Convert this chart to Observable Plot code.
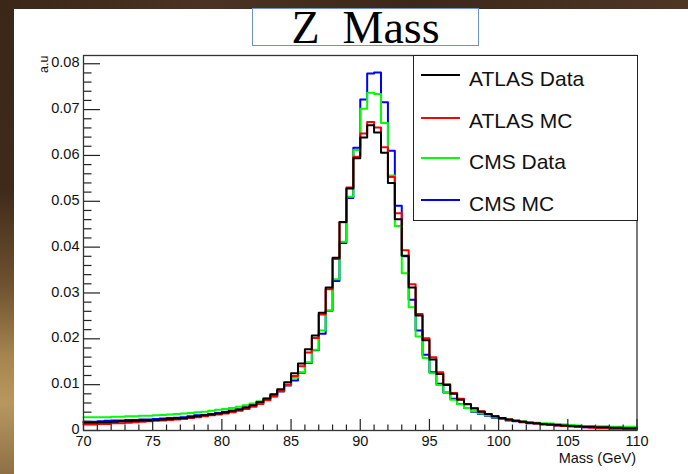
<!DOCTYPE html>
<html>
<head>
<meta charset="utf-8">
<script src="https://cdn.jsdelivr.net/npm/d3@7"></script>
<script src="https://cdn.jsdelivr.net/npm/@observablehq/plot@0.6"></script>
<style>
  body { margin: 0; }
  #page { position: relative; width: 688px; height: 474px; overflow: hidden;
    background: linear-gradient(to bottom, #3a2718 0%, #3f2a1a 40%, #6e5130 60%, #a5844f 75%, #b8975f 85%, #8f7046 100%); }
  #topband { position: absolute; left: 0; top: 0; width: 688px; height: 10px;
    background: linear-gradient(to right, #3a2718, #4a3322 30%, #3c2819 60%, #4d3624 100%); }
  #panel { position: absolute; left: 14px; top: 9px; width: 674px; height: 465px; background: #fff; }
  #chart { position: absolute; left: 0; top: 0; }
  #titlebox { position: absolute; left: 252px; top: 8px; width: 225px; height: 36px;
    border: 1px solid #6d92cb; background: #fff; }
  #title { position: absolute; left: 252px; top: 4.8px; width: 227px; text-align: center;
    font-family: "Liberation Serif", "DejaVu Serif", serif; font-size: 46px; line-height: 1;
    white-space: pre; color: #000; }
  #ylab { position: absolute; left: 38px; top: 73px; transform-origin: 0 0; transform: rotate(-90deg);
    font-family: "Liberation Sans", Arial, sans-serif; font-size: 12.5px; line-height: 1; white-space: nowrap; color: #111; }
  #xlab { position: absolute; left: 0; top: 450.5px; width: 636px; text-align: right;
    font-family: "Liberation Sans", Arial, sans-serif; font-size: 14.5px; line-height: 1; color: #111; }
  #legend { position: absolute; left: 413px; top: 55px; width: 223px; height: 164px;
    border: 1px solid #222; background: #fff; }
  .lg-line { position: absolute; left: 7px; width: 39px; height: 2px; }
  .lg-text { position: absolute; left: 55px; font-family: "Liberation Sans", Arial, sans-serif;
    font-size: 21px; line-height: 1; white-space: nowrap; color: #111; }
</style>
</head>
<body>
<div id="page">
  <div id="topband"></div>
  <div id="panel"></div>
  <div id="chart"></div>
  <div id="titlebox"></div>
  <div id="title">Z  Mass</div>
  <div id="ylab">a.u</div>
  <div id="xlab">Mass (GeV)</div>
  <div id="legend"></div>
</div>
<script>
// ---- data ----
const seriesNames = ["ATLAS Data", "ATLAS MC", "CMS Data", "CMS MC"];
const seriesColors = ["#000000", "#ff0000", "#00ff00", "#0000ff"];
// histogram bins: 80 bins of 0.5 GeV from 70 to 110 GeV
const binEdges = d3.range(70, 110.001, 0.5);
const xMajorTicks = [70, 75, 80, 85, 90, 95, 100, 105, 110];
const xMinorTicks = d3.range(71, 110, 1).filter(v => v % 5 !== 0);
const yMajorTicks = [0, 0.01, 0.02, 0.03, 0.04, 0.05, 0.06, 0.07, 0.08];
const yMinorTicks = d3.range(0.002, 0.0801, 0.002).filter(v => Math.abs(v * 100 - Math.round(v * 100)) > 1e-6);

const atlasData = [
  0.0017,0.0017,0.0018,0.0018,0.0019,0.0020,0.0020,0.0021,0.0022,0.0022,
  0.0023,0.0024,0.0025,0.0026,0.0027,0.0029,0.0031,0.0033,0.0035,0.0037,
  0.0039,0.0043,0.0046,0.0050,0.0055,0.0062,0.0070,0.0079,0.0090,0.0105,
  0.0125,0.0146,0.0177,0.0207,0.0257,0.0312,0.0377,0.0455,0.0528,0.0594,
  0.0639,0.0666,0.0650,0.0606,0.0540,0.0461,0.0381,0.0312,0.0251,0.0197,
  0.0155,0.0123,0.0099,0.0080,0.0067,0.0057,0.0048,0.0041,0.0036,0.0031,
  0.0027,0.0024,0.0021,0.0019,0.0017,0.0016,0.0014,0.0013,0.0012,0.0011,
  0.0010,0.0009,0.0008,0.0008,0.0007,0.0007,0.0006,0.0006,0.0005,0.0005];
const atlasMC = [
  0.0013,0.0013,0.0014,0.0014,0.0016,0.0016,0.0017,0.0018,0.0019,0.0020,
  0.0021,0.0022,0.0023,0.0024,0.0025,0.0027,0.0029,0.0031,0.0033,0.0035,
  0.0037,0.0040,0.0043,0.0047,0.0052,0.0058,0.0066,0.0075,0.0086,0.0100,
  0.0119,0.0140,0.0170,0.0202,0.0253,0.0308,0.0374,0.0454,0.0530,0.0597,
  0.0648,0.0673,0.0661,0.0618,0.0553,0.0474,0.0393,0.0319,0.0254,0.0201,
  0.0160,0.0127,0.0101,0.0082,0.0069,0.0058,0.0049,0.0042,0.0036,0.0031,
  0.0027,0.0024,0.0021,0.0019,0.0017,0.0015,0.0014,0.0012,0.0011,0.0010,
  0.0009,0.0008,0.0007,0.0006,0.0005,0.0005,0.0004,0.0004,0.0003,0.0003];
const cmsData = [
  0.0029,0.0029,0.0029,0.0029,0.0030,0.0030,0.0031,0.0031,0.0032,0.0032,
  0.0033,0.0034,0.0035,0.0036,0.0037,0.0038,0.0040,0.0041,0.0043,0.0045,
  0.0047,0.0049,0.0052,0.0055,0.0059,0.0064,0.0070,0.0078,0.0088,0.0100,
  0.0115,0.0127,0.0149,0.0176,0.0218,0.0262,0.0330,0.0412,0.0510,0.0612,
  0.0702,0.0737,0.0734,0.0671,0.0556,0.0446,0.0343,0.0269,0.0205,0.0158,
  0.0125,0.0099,0.0084,0.0067,0.0057,0.0049,0.0042,0.0037,0.0033,0.0029,
  0.0026,0.0024,0.0022,0.0020,0.0018,0.0017,0.0016,0.0015,0.0014,0.0013,
  0.0012,0.0011,0.0010,0.0010,0.0009,0.0009,0.0008,0.0008,0.0008,0.0008];
const cmsMC = [
  0.0019,0.0019,0.0020,0.0021,0.0022,0.0022,0.0023,0.0023,0.0024,0.0024,
  0.0025,0.0026,0.0027,0.0028,0.0029,0.0031,0.0033,0.0034,0.0036,0.0038,
  0.0041,0.0043,0.0046,0.0050,0.0054,0.0060,0.0067,0.0074,0.0085,0.0098,
  0.0109,0.0126,0.0147,0.0175,0.0211,0.0261,0.0326,0.0409,0.0507,0.0617,
  0.0722,0.0779,0.0781,0.0716,0.0610,0.0490,0.0380,0.0285,0.0218,0.0165,
  0.0127,0.0102,0.0083,0.0069,0.0058,0.0049,0.0041,0.0036,0.0032,0.0028,
  0.0025,0.0022,0.0020,0.0018,0.0016,0.0015,0.0013,0.0012,0.0011,0.0010,
  0.0009,0.0008,0.0007,0.0007,0.0006,0.0006,0.0005,0.0005,0.0005,0.0005];

// ---- build step rows (draw order: CMS MC, CMS Data, ATLAS MC, ATLAS Data) ----
const seriesValues = {"ATLAS Data": atlasData, "ATLAS MC": atlasMC, "CMS Data": cmsData, "CMS MC": cmsMC};
const drawOrder = ["CMS MC", "CMS Data", "ATLAS MC", "ATLAS Data"];
const rows = [];
for (const name of drawOrder) {
  const vals = seriesValues[name];
  binEdges.forEach((e, i) => rows.push({series: name, mass: e, value: vals[Math.min(i, vals.length - 1)]}));
}

// ---- layout ----
const W = 688, H = 474;
const mL = 83, mR = 51.5, mT = 55, mB = 44;
const xDom = [70, 110], yDom = [0, 0.0818];
const innerW = W - mL - mR, innerH = H - mT - mB;
const pxY = (yDom[1] - yDom[0]) / innerH;   // data units per pixel (vertical)
const pxX = (xDom[1] - xDom[0]) / innerW;   // data units per pixel (horizontal)

const chart = Plot.plot({
  width: W, height: H,
  marginLeft: mL, marginRight: mR, marginTop: mT, marginBottom: mB,
  x: {domain: xDom},
  y: {domain: yDom},
  color: {domain: seriesNames, range: seriesColors},
  style: {background: "transparent", fontFamily: "'Liberation Sans', Arial, sans-serif", fontSize: "14px", color: "#111", overflow: "visible"},
  marks: [
    Plot.line(rows, {x: "mass", y: "value", z: "series", stroke: "series", curve: "step-after", strokeWidth: 2}),
    // x ticks (inside, upward)
    Plot.ruleX(xMajorTicks, {x: d => d, y1: 0, y2: 11 * pxY, stroke: "#222", strokeWidth: 1.2}),
    Plot.ruleX(xMinorTicks, {x: d => d, y1: 0, y2: 5.5 * pxY, stroke: "#222", strokeWidth: 1.2}),
    // y ticks (inside, rightward)
    Plot.ruleY(yMajorTicks, {y: d => d, x1: 70, x2: 70 + 17 * pxX, stroke: "#222", strokeWidth: 1.2}),
    Plot.ruleY(yMinorTicks, {y: d => d, x1: 70, x2: 70 + 8.5 * pxX, stroke: "#222", strokeWidth: 1.2}),
    Plot.frame({stroke: "#333", strokeWidth: 1.3}),
    Plot.axisX({ticks: xMajorTicks, tickSize: 0, tickPadding: 5, tickFormat: d => String(d), label: null, fontSize: 14.5}),
    Plot.axisY({ticks: yMajorTicks, tickSize: 0, tickPadding: 4, dy: -1, tickFormat: d => d === 0 ? "0" : d.toFixed(2), label: null, fontSize: 14.5})
  ]
});
document.getElementById("chart").appendChild(chart);

// ---- legend ----
const legend = document.getElementById("legend");
const rowY = [19, 61.7, 102.3, 144]; // line centres relative to legend box
seriesNames.forEach((name, i) => {
  const ln = document.createElement("div");
  ln.className = "lg-line";
  ln.style.top = (rowY[i] - 1) + "px";
  ln.style.background = seriesColors[i];
  legend.appendChild(ln);
  const tx = document.createElement("div");
  tx.className = "lg-text";
  tx.style.top = (rowY[i] - 7.3) + "px";
  tx.textContent = name;
  legend.appendChild(tx);
});
</script>
</body>
</html>
